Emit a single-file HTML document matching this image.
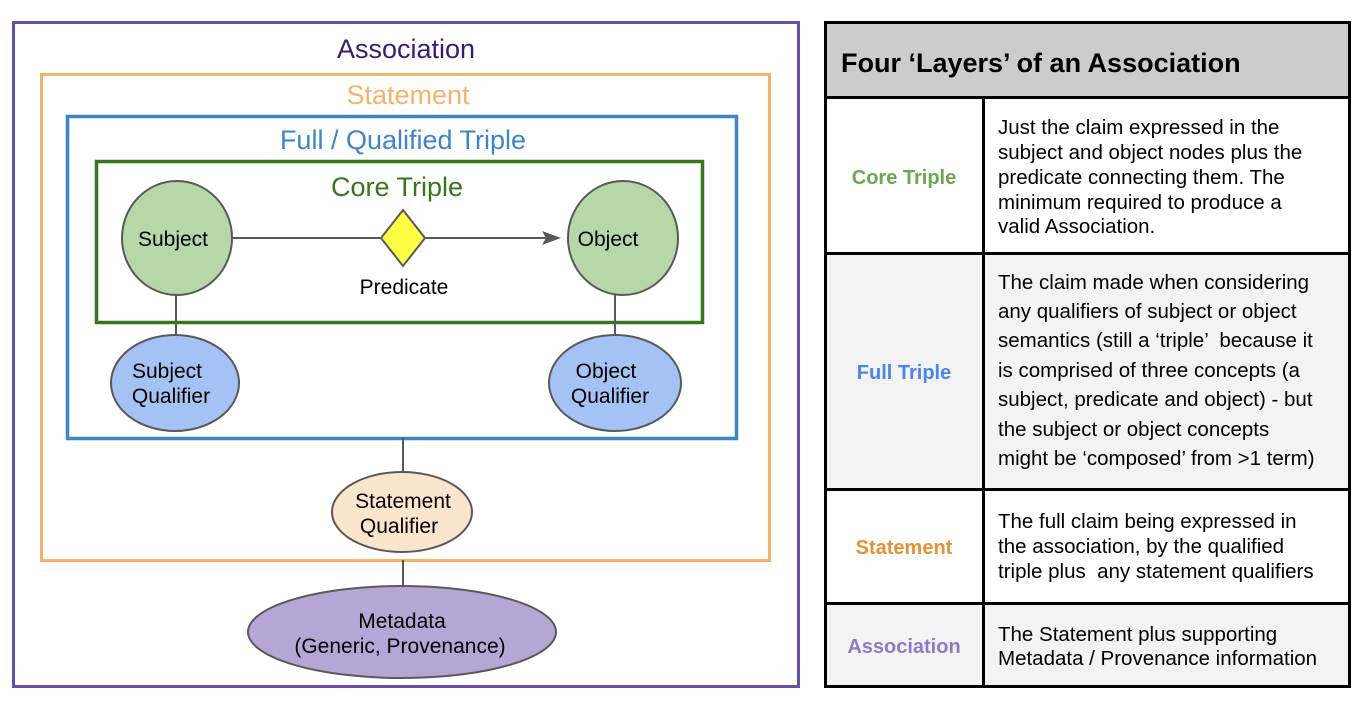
<!DOCTYPE html>
<html><head><style>body{margin:0;background:#fff}svg{display:block}</style></head><body>
<svg width="1372" height="706" xmlns="http://www.w3.org/2000/svg" font-family="Liberation Sans, sans-serif">
<rect x="0" y="0" width="1372" height="706" fill="#fff"/>
<rect x="13.5" y="22.5" width="785" height="664" fill="none" stroke="#674ea7" stroke-width="3"/>
<text x="406" y="58" font-size="27" fill="#351c75" text-anchor="middle">Association</text>
<rect x="41.5" y="74.5" width="728" height="486" fill="none" stroke="#f6b26b" stroke-width="3"/>
<text x="408" y="104" font-size="27" fill="#f6b26b" text-anchor="middle">Statement</text>
<rect x="67.5" y="116.5" width="669" height="322" fill="none" stroke="#3d85c6" stroke-width="3.5"/>
<text x="403" y="149" font-size="27" fill="#3d85c6" text-anchor="middle">Full / Qualified Triple</text>
<rect x="96.5" y="161.5" width="606" height="161" fill="none" stroke="#38761d" stroke-width="3.5"/>
<text x="397" y="196" font-size="27" fill="#38761d" text-anchor="middle">Core Triple</text>
<g stroke="#595959" stroke-width="2" fill="none">
<line x1="233" y1="238" x2="555" y2="238"/>
<line x1="176" y1="295" x2="176" y2="336"/>
<line x1="615" y1="295" x2="615" y2="336"/>
<line x1="403" y1="438" x2="403" y2="472"/>
<line x1="403" y1="560" x2="403" y2="586"/>
</g>
<path d="M542 231 L561 238 L542 245 L546 238 Z" fill="#595959"/>
<g stroke="#595959" stroke-width="2">
<ellipse cx="177" cy="238" rx="55" ry="57" fill="#b6d7a8"/>
<ellipse cx="623" cy="238" rx="55" ry="57" fill="#b6d7a8"/>
<path d="M403 210 L425 238 L403 266 L381 238 Z" fill="#ffff44"/>
<ellipse cx="175" cy="383" rx="64" ry="48" fill="#a4c2f4"/>
<ellipse cx="615" cy="383" rx="66" ry="48" fill="#a4c2f4"/>
<ellipse cx="402" cy="512" rx="70" ry="40" fill="#fce5cd"/>
<ellipse cx="402" cy="632" rx="154" ry="46" fill="#b4a7d6"/>
</g>
<g font-size="21" fill="#000" text-anchor="middle">
<text x="173" y="246">Subject</text>
<text x="608" y="246">Object</text>
<text x="404" y="294">Predicate</text>
<text x="167" y="378">Subject</text>
<text x="171" y="403">Qualifier</text>
<text x="606" y="378">Object</text>
<text x="610" y="403">Qualifier</text>
<text x="403" y="508">Statement</text>
<text x="399" y="533">Qualifier</text>
<text x="402" y="628">Metadata</text>
<text x="400" y="653">(Generic, Provenance)</text>
</g>
<rect x="825" y="22" width="525" height="75" fill="#cccccc"/>
<rect x="825" y="253" width="525" height="236" fill="#f3f3f3"/>
<rect x="825" y="603" width="525" height="84" fill="#f3f3f3"/>
<g stroke="#000" stroke-width="3" fill="none">
<rect x="825.5" y="22.5" width="524" height="664"/>
<line x1="825" y1="97.5" x2="1350" y2="97.5"/>
<line x1="825" y1="253.5" x2="1350" y2="253.5"/>
<line x1="825" y1="489.5" x2="1350" y2="489.5"/>
<line x1="825" y1="603.5" x2="1350" y2="603.5"/>
<line x1="983.5" y1="97" x2="983.5" y2="687"/>
</g>
<text x="841" y="72" font-size="27" font-weight="bold" fill="#000">Four ‘Layers’ of an Association</text>
<g font-size="20" font-weight="bold" text-anchor="middle">
<text x="904" y="184" fill="#6aa84f">Core Triple</text>
<text x="904" y="379" fill="#4a86e8">Full Triple</text>
<text x="904" y="554" fill="#e69138">Statement</text>
<text x="904" y="653" fill="#8e7cc3">Association</text>
</g>
<g font-size="20.5" fill="#000">
<text x="998" y="134">Just the claim expressed in the</text>
<text x="998" y="159">subject and object nodes plus the</text>
<text x="998" y="184">predicate connecting them. The</text>
<text x="998" y="209">minimum required to produce a</text>
<text x="998" y="233">valid Association.</text>
<text x="998" y="289">The claim made when considering</text>
<text x="998" y="318">any qualifiers of subject or object</text>
<text x="998" y="347" xml:space="preserve">semantics (still a ‘triple’  because it</text>
<text x="998" y="377">is comprised of three concepts (a</text>
<text x="998" y="406">subject, predicate and object) - but</text>
<text x="998" y="436">the subject or object concepts</text>
<text x="998" y="465">might be ‘composed’ from &gt;1 term)</text>
<text x="998" y="528">The full claim being expressed in</text>
<text x="998" y="553">the association, by the qualified</text>
<text x="998" y="578" xml:space="preserve">triple plus  any statement qualifiers</text>
<text x="998" y="641">The Statement plus supporting</text>
<text x="998" y="665">Metadata / Provenance information</text>
</g>
</svg>
</body></html>
